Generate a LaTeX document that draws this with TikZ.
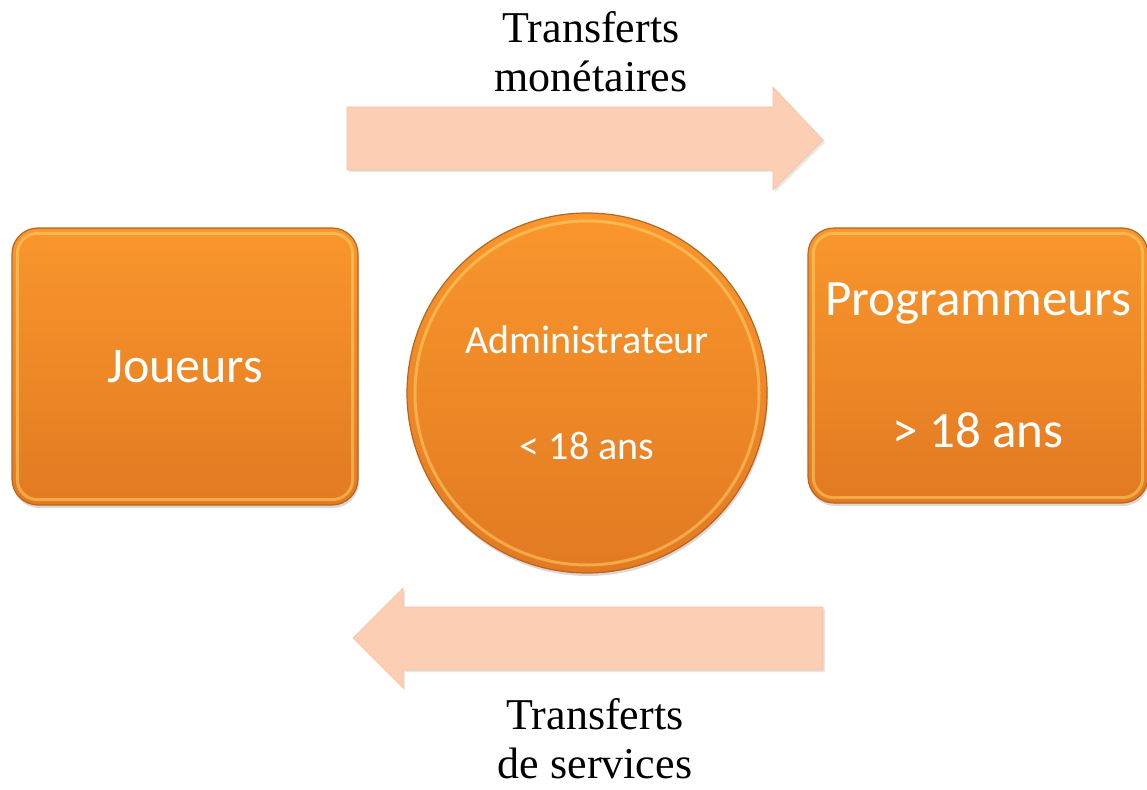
\documentclass[tikz,border=0pt]{standalone}
\usepackage{fontspec}
\setmainfont{Liberation Serif}
\newfontfamily\carlito{Carlito}
\usetikzlibrary{shadows}
\definecolor{boxtop}{HTML}{F9962C}
\definecolor{boxbot}{HTML}{E27A22}
\definecolor{boxedge}{HTML}{B9651E}
\definecolor{hilite}{HTML}{FFD870}
\definecolor{arrowfill}{HTML}{FCCEB3}
\begin{document}
\begin{tikzpicture}[x=1pt,y=-1pt,
  orangebox/.style={rectangle, rounded corners=26pt, top color=boxtop, bottom color=boxbot,
    draw=boxedge, line width=1.2pt, text=white, align=center,
    drop shadow={opacity=0.3, shadow xshift=1pt, shadow yshift=-3pt}},
  orangedisc/.style={circle, minimum size=360pt, top color=boxtop, bottom color=boxbot,
    draw=boxedge, line width=1.2pt, text=white, align=center,
    drop shadow={opacity=0.3, shadow xshift=1pt, shadow yshift=-3pt}},
  bevel/.style={draw=hilite, line width=3pt, draw opacity=0.5},
  bigarrow/.style={fill=arrowfill, draw=arrowfill!85!brown, line width=0.6pt,
    drop shadow={opacity=0.2, shadow xshift=2pt, shadow yshift=-2pt}},
  caption/.style={font=\fontsize{44}{49}\selectfont, align=center, text=black, inner sep=0pt},
]
\useasboundingbox (0,0) rectangle (1147,789);

% top arrow (to the right)
\path[bigarrow] (347,107) -- (773,107) -- (773,87) -- (823,140) -- (773,190) -- (773,170) -- (347,170) -- cycle;
% bottom arrow (to the left)
\path[bigarrow] (823,607) -- (403,607) -- (403,588) -- (353,638) -- (403,688) -- (403,670) -- (823,670) -- cycle;

% boxes
\node[orangebox, minimum width=346pt, minimum height=277pt, font=\carlito\fontsize{50}{60}\selectfont] (J) at (185,366.5) {Joueurs};
\draw[bevel, rounded corners=20pt] ([xshift=6pt,yshift=-6pt]J.north west) rectangle ([xshift=-6pt,yshift=6pt]J.south east);

\node[orangebox, minimum width=340pt, minimum height=275pt, font=\carlito\fontsize{51}{132}\selectfont] (P) at (978,365.5) {Programmeurs\\> 18 ans};
\draw[bevel, rounded corners=20pt] ([xshift=6pt,yshift=-6pt]P.north west) rectangle ([xshift=-6pt,yshift=6pt]P.south east);

\node[orangedisc, font=\carlito\fontsize{40}{106}\selectfont] (A) at (587,393) {Administrateur\\< 18 ans};
\draw[bevel] (A.center) circle[radius=172pt];

% captions
\node[caption] (top) at (591,52) {Transferts\\monétaires};
\node[caption] (bot) at (595,739) {Transferts\\de services};
\end{tikzpicture}
\end{document}
